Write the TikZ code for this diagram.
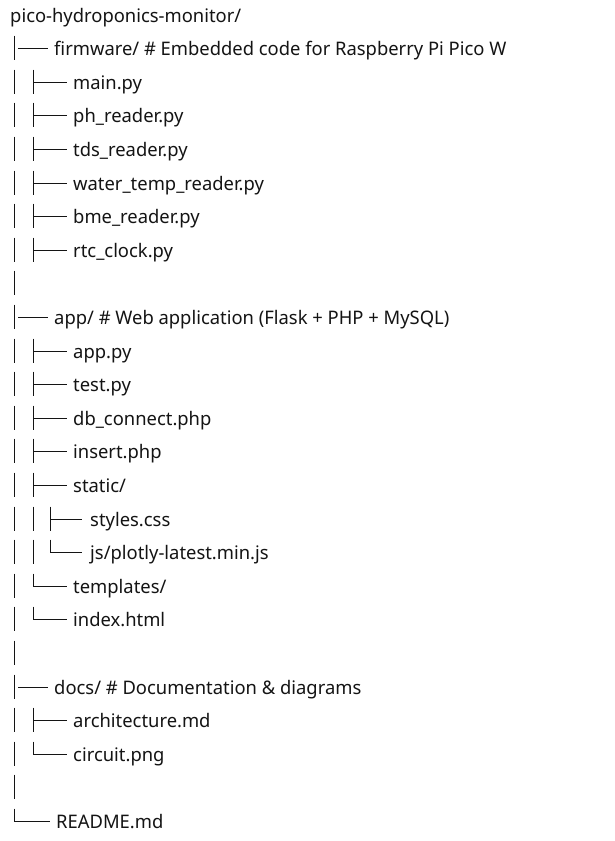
\documentclass[tikz,border=0pt]{standalone}
\usepackage{fontspec}
\setmainfont[FakeStretch=0.985]{Noto Sans}
\usetikzlibrary{calc}
\begin{document}
\begin{tikzpicture}[x=1pt,y=-1pt,
  tree/.style={line width=1.8pt, draw=black!92, line cap=butt},
  lbl/.style={anchor=base west, inner sep=0pt, text=black!92, font=\fontsize{18.67}{22}\selectfont}]
\fill[white] (0,0) rectangle (614,841);
\useasboundingbox (0,0) rectangle (614,841);
\foreach \i in {0,...,24} \coordinate (r\i) at (0,{round(21.5+33.6*\i)+0.5});
% outer vertical bars
\foreach \i in {1,...,23} \draw[tree] ($(r\i)+(14.5,-20)$) -- ($(r\i)+(14.5,4)$);
% dashes after outer bar
\foreach \i in {1,9,20} \draw[tree] ($(r\i)+(18,-7)$) -- ($(r\i)+(48,-7)$);
% level-1 tee
\foreach \i in {2,3,4,5,6,7,10,11,12,13,14,21} {
  \draw[tree] ($(r\i)+(33.5,-20)$) -- ($(r\i)+(33.5,4)$);
  \draw[tree] ($(r\i)+(33.5,-7)$) -- ($(r\i)+(67,-7)$);
}
% level-1 continuation
\foreach \i in {15,16} \draw[tree] ($(r\i)+(33.5,-20)$) -- ($(r\i)+(33.5,4)$);
% level-1 corner
\foreach \i in {17,18,22} \draw[tree] ($(r\i)+(33.5,-20)$) -- ($(r\i)+(33.5,-7)$) -- ($(r\i)+(67,-7)$);
% level-2
\draw[tree] ($(r15)+(50.5,-20)$) -- ($(r15)+(50.5,4)$);
\draw[tree] ($(r15)+(50.5,-7)$) -- ($(r15)+(82,-7)$);
\draw[tree] ($(r16)+(50.5,-20)$) -- ($(r16)+(50.5,-7)$) -- ($(r16)+(82,-7)$);
% README corner
\draw[tree] ($(r24)+(14.5,-20)$) -- ($(r24)+(14.5,-7)$) -- ($(r24)+(50,-7)$);
% labels
\node[lbl] (t0) at ($(r0)+(10,0)$) {pico-hydroponics-monitor/};
\node[lbl] (t1) at ($(r1)+(54,0)$) {firmware/ \# Embedded code for Raspberry Pi Pico W};
\node[lbl] (t2) at ($(r2)+(73,0)$) {main.py};
\node[lbl] (t3) at ($(r3)+(73,0)$) {ph\_reader.py};
\node[lbl] (t4) at ($(r4)+(73,0)$) {tds\_reader.py};
\node[lbl] (t5) at ($(r5)+(73,0)$) {water\_temp\_reader.py};
\node[lbl] (t6) at ($(r6)+(73,0)$) {bme\_reader.py};
\node[lbl] (t7) at ($(r7)+(73,0)$) {rtc\_clock.py};
\node[lbl] (t9) at ($(r9)+(54,0)$) {app/ \# Web application (Flask + PHP + MySQL)};
\node[lbl] (t10) at ($(r10)+(73,0)$) {app.py};
\node[lbl] (t11) at ($(r11)+(73,0)$) {test.py};
\node[lbl] (t12) at ($(r12)+(73,0)$) {db\_connect.php};
\node[lbl] (t13) at ($(r13)+(73,0)$) {insert.php};
\node[lbl] (t14) at ($(r14)+(73,0)$) {static/};
\node[lbl] (t15) at ($(r15)+(90,0)$) {styles.css};
\node[lbl] (t16) at ($(r16)+(90,0)$) {js/plotly-latest.min.js};
\node[lbl] (t17) at ($(r17)+(73,0)$) {templates/};
\node[lbl] (t18) at ($(r18)+(73,0)$) {index.html};
\node[lbl] (t20) at ($(r20)+(54,0)$) {docs/ \# Documentation \& diagrams};
\node[lbl] (t21) at ($(r21)+(73,0)$) {architecture.md};
\node[lbl] (t22) at ($(r22)+(73,0)$) {circuit.png};
\node[lbl] (t24) at ($(r24)+(56,0)$) {README.md};
\end{tikzpicture}
\end{document}
